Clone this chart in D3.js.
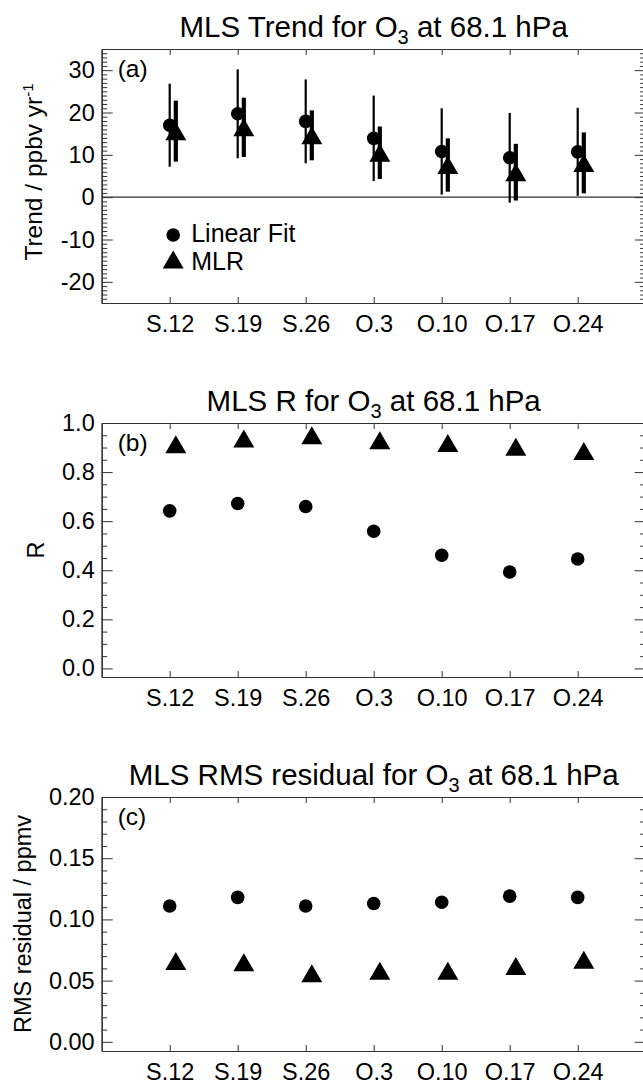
<!DOCTYPE html>
<html>
<head>
<meta charset="utf-8">
<script src="https://cdn.jsdelivr.net/npm/d3@7"></script>
<style>
    html, body { margin: 0; padding: 0; background: #fff; }
    svg { display: block; }
    text { font-family: "Liberation Sans", Arial, Helvetica, sans-serif; fill: #000; }
</style>
</head>
<body>
<svg id="chart" width="643" height="1084"></svg>
<script>
(function () {
    'use strict';

    // categories (weeks)
    var weeks = ['S.12', 'S.19', 'S.26', 'O.3', 'O.10', 'O.17', 'O.24'];

    // (a) trend, ppbv/yr, with 1-sigma bars
    var linTrend = [17.0, 19.7, 17.9, 13.9, 10.8, 9.3, 10.7];
    var linTrendErr = [9.8, 10.5, 9.9, 10.1, 10.2, 10.6, 10.4];
    var mlrTrend = [15.6, 16.5, 14.6, 10.5, 7.6, 5.9, 8.1];
    var mlrTrendErr = [7.2, 7.0, 5.9, 6.2, 6.3, 6.7, 7.2];

    // (b) correlation R
    var linR = [0.642, 0.672, 0.660, 0.559, 0.461, 0.393, 0.446];
    var mlrR = [0.913, 0.937, 0.950, 0.930, 0.918, 0.903, 0.886];

    // (c) RMS residual, ppmv
    var linRms = [0.111, 0.118, 0.111, 0.113, 0.114, 0.119, 0.118];
    var mlrRms = [0.066, 0.065, 0.056, 0.058, 0.058, 0.062, 0.067];

    // tick labels
    var trendTicks = [-20, -10, 0, 10, 20, 30];
    var rTicks = [0, 0.2, 0.4, 0.6, 0.8, 1.0];
    var rmsTicks = [0, 0.05, 0.10, 0.15, 0.20];

    var svg = d3.select('#chart');
    var plotLeft = 101.7;
    var plotRight = 645.7;
    var plotH = 254;
    var mlrShift = 0.09;
    var axisColor = '#333';

    var x = d3.scaleLinear().domain([0, 8]).range([plotLeft, plotRight]);
    var cats = d3.range(1, weeks.length + 1);

    drawPanel({
        top: 49,
        yDomain: [-25, 35],
        ticks: trendTicks,
        minor: d3.range(-25, 36),
        fmt: function (d) { return String(d); },
        title: ['MLS Trend for O', '3', ' at 68.1 hPa'],
        ylabel: ['Trend / ppbv yr', '-1'],
        ylabelX: 42,
        ylabelSize: 24.5,
        ylabelShift: -4,
        tag: '(a)',
        lin: linTrend, linErr: linTrendErr,
        mlr: mlrTrend, mlrErr: mlrTrendErr,
        zeroLine: true,
        legend: true
    });

    drawPanel({
        top: 423,
        yDomain: [-0.035, 1.0],
        ticks: rTicks,
        minor: d3.range(0, 21).map(function (i) { return i * 0.05; }),
        fmt: d3.format('.1f'),
        title: ['MLS R for O', '3', ' at 68.1 hPa'],
        ylabel: ['R'],
        ylabelX: 44,
        tag: '(b)',
        lin: linR,
        mlr: mlrR
    });

    drawPanel({
        top: 797,
        yDomain: [-0.0075, 0.2],
        ticks: rmsTicks,
        minor: d3.range(0, 21).map(function (i) { return i * 0.01; }),
        fmt: d3.format('.2f'),
        title: ['MLS RMS residual for O', '3', ' at 68.1 hPa'],
        ylabel: ['RMS residual / ppmv'],
        ylabelX: 31,
        tag: '(c)',
        lin: linRms,
        mlr: mlrRms
    });

    function triPath(cx, cy) {
        var w = 21, h = 18;
        return 'M' + cx + ',' + (cy - h / 2) +
            'L' + (cx + w / 2) + ',' + (cy + h / 2) +
            'L' + (cx - w / 2) + ',' + (cy + h / 2) + 'Z';
    }

    function styleAxis(sel) {
        sel.attr('font-size', null).attr('font-family', null);
        sel.selectAll('path.domain').attr('stroke', axisColor).attr('stroke-width', 1.2);
        sel.selectAll('.tick line').attr('stroke', axisColor).attr('stroke-width', 1);
        sel.selectAll('.tick text').attr('fill', '#000').style('font-size', '23.5px');
    }

    function drawPanel(p) {
        var bottom = p.top + plotH;
        var y = d3.scaleLinear().domain(p.yDomain).range([bottom, p.top]);
        var g = svg.append('g');
        var minor = p.minor.filter(function (v) {
            return !p.ticks.some(function (t) { return Math.abs(t - v) < 1e-6; });
        });

        if (p.zeroLine) {
            g.append('line')
                .attr('x1', plotLeft).attr('x2', plotRight)
                .attr('y1', y(0)).attr('y2', y(0))
                .attr('stroke', axisColor).attr('stroke-width', 1.2);
        }

        // left axis, ticks pointing inward
        g.append('g')
            .attr('transform', 'translate(' + plotLeft + ',0)')
            .call(d3.axisLeft(y).tickValues(minor).tickSizeInner(-5.5).tickSizeOuter(0).tickFormat(''))
            .call(styleAxis);
        g.append('g')
            .attr('transform', 'translate(' + plotLeft + ',0)')
            .call(d3.axisLeft(y).tickValues(p.ticks).tickSizeInner(-11).tickSizeOuter(0)
                .tickPadding(7).tickFormat(p.fmt))
            .call(styleAxis);

        // right axis
        g.append('g')
            .attr('transform', 'translate(' + plotRight + ',0)')
            .call(d3.axisRight(y).tickValues(minor).tickSizeInner(-5.5).tickSizeOuter(0).tickFormat(''))
            .call(styleAxis);
        g.append('g')
            .attr('transform', 'translate(' + plotRight + ',0)')
            .call(d3.axisRight(y).tickValues(p.ticks).tickSizeInner(-11).tickSizeOuter(0).tickFormat(''))
            .call(styleAxis);

        // bottom axis with week labels
        g.append('g')
            .attr('transform', 'translate(0,' + bottom + ')')
            .call(d3.axisBottom(x).tickValues(cats).tickSizeInner(-6).tickSizeOuter(0)
                .tickPadding(12).tickFormat(function (d) { return weeks[d - 1]; }))
            .call(styleAxis);

        // top axis
        g.append('g')
            .attr('transform', 'translate(0,' + p.top + ')')
            .call(d3.axisTop(x).tickValues(cats).tickSizeInner(-6).tickSizeOuter(0).tickFormat(''))
            .call(styleAxis);

        // title with subscript
        var title = g.append('text')
            .attr('x', (plotLeft + plotRight) / 2)
            .attr('y', p.top - 12.5)
            .attr('text-anchor', 'middle')
            .style('font-size', '29.5px');
        title.append('tspan').text(p.title[0]);
        title.append('tspan').attr('dy', 7).style('font-size', '20px').text(p.title[1]);
        title.append('tspan').attr('dy', -7).text(p.title[2]);

        // y axis title
        var yt = g.append('text')
            .attr('transform', 'translate(' + p.ylabelX + ',' +
                (p.top + plotH / 2 + (p.ylabelShift || 0)) + ') rotate(-90)')
            .attr('text-anchor', 'middle')
            .style('font-size', (p.ylabelSize || 23.5) + 'px');
        yt.append('tspan').text(p.ylabel[0]);
        if (p.ylabel[1]) {
            yt.append('tspan').attr('dy', -9).style('font-size', '15px').text(p.ylabel[1]);
        }

        // panel tag
        g.append('text')
            .attr('x', plotLeft + 16)
            .attr('y', p.top + 28)
            .style('font-size', '24.5px')
            .text(p.tag);

        // error bars
        if (p.linErr) {
            g.selectAll('.lin-err')
                .data(cats)
                .enter().append('line')
                .attr('class', 'lin-err')
                .attr('x1', function (d) { return x(d); })
                .attr('x2', function (d) { return x(d); })
                .attr('y1', function (d, i) { return y(p.lin[i] - p.linErr[i]); })
                .attr('y2', function (d, i) { return y(p.lin[i] + p.linErr[i]); })
                .attr('stroke', '#000').attr('stroke-width', 2.2);
        }

        g.selectAll('.lin-pt')
            .data(cats)
            .enter().append('circle')
            .attr('class', 'lin-pt')
            .attr('cx', function (d) { return x(d); })
            .attr('cy', function (d, i) { return y(p.lin[i]); })
            .attr('r', 6.8)
            .attr('fill', '#000');

        if (p.mlrErr) {
            g.selectAll('.mlr-err')
                .data(cats)
                .enter().append('line')
                .attr('class', 'mlr-err')
                .attr('x1', function (d) { return x(d + mlrShift); })
                .attr('x2', function (d) { return x(d + mlrShift); })
                .attr('y1', function (d, i) { return y(p.mlr[i] - p.mlrErr[i]); })
                .attr('y2', function (d, i) { return y(p.mlr[i] + p.mlrErr[i]); })
                .attr('stroke', '#000').attr('stroke-width', 4.2);
        }

        g.selectAll('.mlr-pt')
            .data(cats)
            .enter().append('path')
            .attr('class', 'mlr-pt')
            .attr('d', function (d, i) { return triPath(x(d + mlrShift), y(p.mlr[i])); })
            .attr('fill', '#000');

        if (p.legend) {
            var lg = g.append('g').attr('transform', 'translate(' + (plotLeft + 71.5) + ',' + (p.top + 186) + ')');
            lg.append('circle').attr('cx', 0).attr('cy', 0).attr('r', 6.8).attr('fill', '#000');
            lg.append('text').attr('x', 18).attr('y', 6.5).style('font-size', '25px').text('Linear Fit');
            lg.append('path').attr('d', triPath(0, 24.5)).attr('fill', '#000');
            lg.append('text').attr('x', 18).attr('y', 35).style('font-size', '25px').text('MLR');
        }
    }
})();
</script>
</body>
</html>
